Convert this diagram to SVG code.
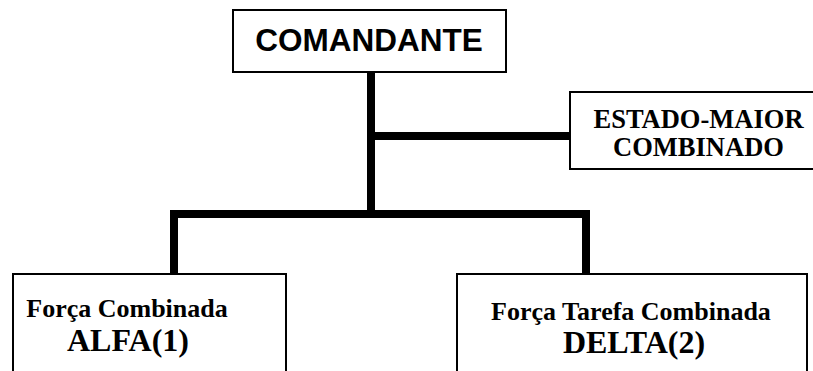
<svg xmlns="http://www.w3.org/2000/svg" width="813" height="371" viewBox="0 0 813 371">
<style>
.box{fill:#fff;stroke:#000;stroke-width:2}
.ln{fill:none;stroke:#000;stroke-width:8;stroke-linecap:square}
.serif{font-family:"Liberation Serif","Times New Roman",serif;font-weight:bold;fill:#000;text-anchor:middle}
.sans{font-family:"Liberation Sans",Arial,sans-serif;font-weight:bold;fill:#000;text-anchor:middle}
</style>
<rect width="813" height="371" fill="#fff"/>
<g id="connectors">
<path class="ln" d="M371,73 V214"/>
<path class="ln" d="M375,136 H569"/>
<path class="ln" d="M174,274 V214 H586 V274"/>
</g>
<g id="comandante">
<rect class="box" x="233" y="10" width="273" height="62"/>
<text class="sans" x="369" y="51" font-size="31.5">COMANDANTE</text>
</g>
<g id="estado-maior">
<rect class="box" x="570" y="92" width="250" height="77"/>
<text class="serif" x="698.5" y="128" font-size="26.5">ESTADO-MAIOR</text>
<text class="serif" x="698.5" y="156" font-size="26.5">COMBINADO</text>
</g>
<g id="alfa">
<rect class="box" x="13" y="274" width="273" height="110"/>
<text class="serif" x="127" y="317" font-size="26">Força Combinada</text>
<text class="serif" x="128" y="351" font-size="32">ALFA(1)</text>
</g>
<g id="delta">
<rect class="box" x="457" y="274" width="350" height="110"/>
<text class="serif" x="631" y="320" font-size="26">Força Tarefa Combinada</text>
<text class="serif" x="634" y="353" font-size="32">DELTA(2)</text>
</g>
</svg>
